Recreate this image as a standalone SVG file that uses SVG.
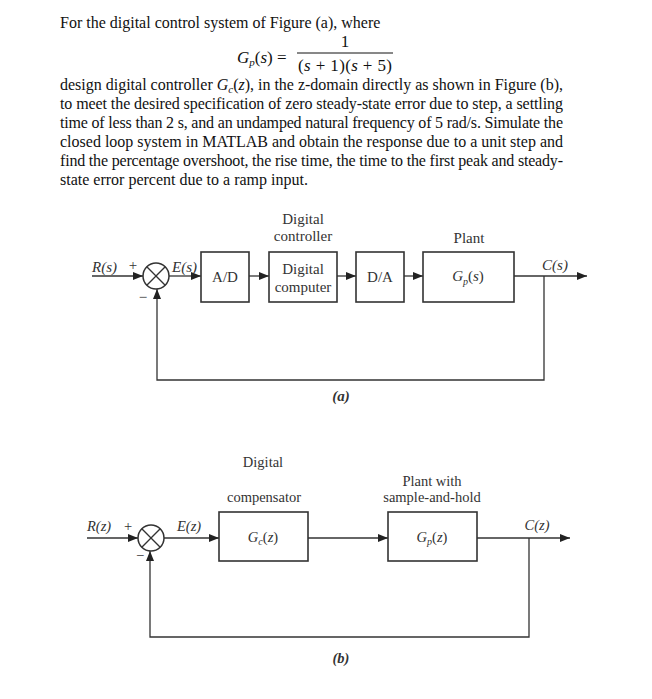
<svg xmlns="http://www.w3.org/2000/svg" width="652" height="699" viewBox="0 0 652 699">
<defs>
<marker id="ah" viewBox="0 0 10 8" refX="10" refY="4" markerWidth="10" markerHeight="8" markerUnits="userSpaceOnUse" orient="auto">
<path d="M0,0 L10,4 L0,8 z" fill="#222"/>
</marker>
<style>
.body{font-family:"Liberation Serif","Times New Roman",serif;font-size:16px;fill:#111}
.math{font-family:"Liberation Serif","Times New Roman",serif;font-size:17px;fill:#111}
.lbl{font-family:"Liberation Serif","Times New Roman",serif;font-size:15px;fill:#333}
.lblb{font-family:"Liberation Serif","Times New Roman",serif;font-size:14.5px;fill:#333}
.it{font-style:italic}
.box{fill:#fff;stroke:#333;stroke-width:1.6}
.ln{fill:none;stroke:#333;stroke-width:1.3}
.arr{fill:none;stroke:#333;stroke-width:1.3;marker-end:url(#ah)}
</style>
</defs>
<rect width="652" height="699" fill="#fff"/>

<g id="problem-text">
<text class="body" x="60" y="28">For the digital control system of Figure (a), where</text>
<text class="math" x="345" y="47" text-anchor="middle">1</text>
<text class="math" x="237" y="63"><tspan class="it">G</tspan><tspan class="it" font-size="11" dy="3">p</tspan><tspan dy="-3">(</tspan><tspan class="it">s</tspan>) =</text>
<line x1="297" y1="53" x2="393" y2="53" stroke="#111" stroke-width="1"/>
<text class="math" x="298" y="71" textLength="94" lengthAdjust="spacing">(<tspan class="it">s</tspan> + 1)(<tspan class="it">s</tspan> + 5)</text>
<text class="body" x="60" y="90" textLength="503" lengthAdjust="spacing">design digital controller <tspan class="it">G</tspan><tspan class="it" font-size="11" dy="3">c</tspan><tspan dy="-3">(</tspan><tspan class="it">z</tspan>), in the z-domain directly as shown in Figure (b),</text>
<text class="body" x="60" y="109" textLength="503" lengthAdjust="spacing">to meet the desired specification of zero steady-state error due to step, a settling</text>
<text class="body" x="60" y="128" textLength="503" lengthAdjust="spacing">time of less than 2 s, and an undamped natural frequency of 5 rad/s. Simulate the</text>
<text class="body" x="60" y="147" textLength="503" lengthAdjust="spacing">closed loop system in MATLAB and obtain the response due to a unit step and</text>
<text class="body" x="60" y="166" textLength="503" lengthAdjust="spacing">find the percentage overshoot, the rise time, the time to the first peak and steady-</text>
<text class="body" x="60" y="185">state error percent due to a ramp input.</text>
</g>

<!-- Figure (a) -->
<g id="a-connectors">
<line class="arr" x1="92" y1="276" x2="143" y2="276"/>
<line class="arr" x1="169" y1="276" x2="201" y2="276"/>
<line class="arr" x1="249" y1="276" x2="269" y2="276"/>
<line class="arr" x1="337" y1="276" x2="356" y2="276"/>
<line class="arr" x1="404" y1="276" x2="423" y2="276"/>
<line class="arr" x1="514" y1="276" x2="587" y2="276"/>
<polyline class="arr" points="544,276 544,380 157,380 157,289"/>
</g>
<g id="a-sum">
<circle cx="156" cy="276" r="13" fill="#fff" stroke="#333" stroke-width="1.5"/>
<line class="ln" x1="146.8" y1="266.8" x2="165.2" y2="285.2"/>
<line class="ln" x1="146.8" y1="285.2" x2="165.2" y2="266.8"/>
<text class="lbl" x="133" y="270" text-anchor="middle">+</text>
<text class="lbl" x="143" y="302" text-anchor="middle">−</text>
</g>
<g id="a-labels">
<text class="lbl it" x="92" y="272">R(s)</text>
<text class="lbl it" x="172" y="272">E(s)</text>
<text class="lbl it" x="555" y="270" text-anchor="middle">C(s)</text>
</g>
<g id="a-ad">
<rect class="box" x="201" y="252" width="48" height="50"/>
<text class="lbl" x="225" y="282" text-anchor="middle">A/D</text>
</g>
<g id="a-computer">
<text class="lbl" x="303" y="224" text-anchor="middle">Digital</text>
<text class="lbl" x="303" y="241" text-anchor="middle">controller</text>
<rect class="box" x="269" y="252" width="68" height="50"/>
<text class="lbl" x="303" y="274" text-anchor="middle">Digital</text>
<text class="lbl" x="303" y="292" text-anchor="middle">computer</text>
</g>
<g id="a-da">
<rect class="box" x="356" y="252" width="48" height="50"/>
<text class="lbl" x="380" y="282" text-anchor="middle">D/A</text>
</g>
<g id="a-plant">
<text class="lbl" x="469" y="243" text-anchor="middle">Plant</text>
<rect class="box" x="423" y="252" width="91" height="50"/>
<text class="lbl" x="468" y="281" text-anchor="middle"><tspan class="it">G</tspan><tspan class="it" font-size="10" dy="4">p</tspan><tspan dy="-4">(</tspan><tspan class="it">s</tspan>)</text>
</g>
<text class="lbl it" x="341" y="401" text-anchor="middle" font-weight="bold">(a)</text>

<!-- Figure (b) -->
<g id="b-connectors">
<line class="arr" x1="87" y1="538" x2="138" y2="538"/>
<line class="arr" x1="164" y1="538" x2="219" y2="538"/>
<line class="arr" x1="308" y1="538" x2="388" y2="538"/>
<line class="arr" x1="477" y1="538" x2="570" y2="538"/>
<polyline class="arr" points="529,538 529,637 150,637 150,551"/>
</g>
<g id="b-sum">
<circle cx="151" cy="538" r="13" fill="#fff" stroke="#333" stroke-width="1.5"/>
<line class="ln" x1="141.8" y1="528.8" x2="160.2" y2="547.2"/>
<line class="ln" x1="141.8" y1="547.2" x2="160.2" y2="528.8"/>
<text class="lblb" x="128" y="531" text-anchor="middle">+</text>
<text class="lblb" x="140" y="560" text-anchor="middle">−</text>
</g>
<g id="b-labels">
<text class="lblb it" x="87" y="531">R(z)</text>
<text class="lblb it" x="177" y="531">E(z)</text>
<text class="lblb it" x="537" y="530" text-anchor="middle">C(z)</text>
</g>
<g id="b-gc">
<text class="lblb" x="263" y="467" text-anchor="middle">Digital</text>
<text class="lblb" x="264" y="502" text-anchor="middle">compensator</text>
<rect class="box" x="219" y="512" width="89" height="49"/>
<text class="lblb" x="263" y="542" text-anchor="middle"><tspan class="it">G</tspan><tspan class="it" font-size="10" dy="3">c</tspan><tspan dy="-3">(</tspan><tspan class="it">z</tspan>)</text>
</g>
<g id="b-gp">
<text class="lblb" x="432" y="486" text-anchor="middle">Plant with</text>
<text class="lblb" x="432" y="502" text-anchor="middle">sample-and-hold</text>
<rect class="box" x="388" y="512" width="89" height="49"/>
<text class="lblb" x="432" y="542" text-anchor="middle"><tspan class="it">G</tspan><tspan class="it" font-size="10" dy="3">p</tspan><tspan dy="-3">(</tspan><tspan class="it">z</tspan>)</text>
</g>
<text class="lblb it" x="341" y="663" text-anchor="middle" font-weight="bold">(b)</text>
</svg>
